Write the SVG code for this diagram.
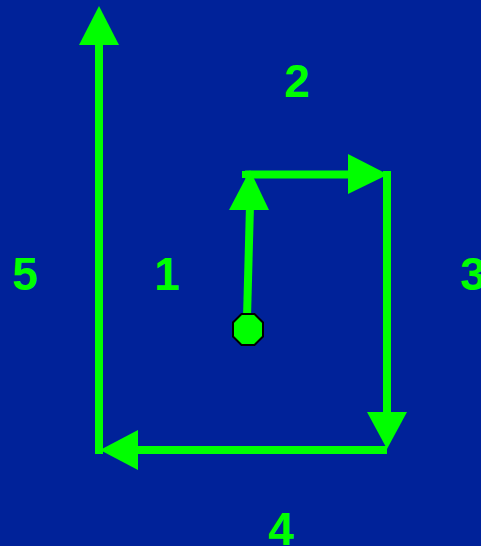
<svg xmlns="http://www.w3.org/2000/svg" width="481" height="546" viewBox="0 0 481 546">
<style>
.ln{stroke:#00ff00;stroke-width:8;fill:none}
.hd{fill:#00ff00}
.lb{font-family:"Liberation Sans",Arial,sans-serif;font-weight:bold;font-size:46px;fill:#00ff00;text-anchor:middle}
</style>
<rect width="481" height="546" fill="#002299"/>
<g id="connectors">
<line class="ln" x1="99" y1="454" x2="99" y2="40"/>
<polygon class="hd" points="99,6 119,45 79,45"/>
<line class="ln" x1="247" y1="318" x2="250" y2="205"/>
<polygon class="hd" points="250,170 269,210 229,210"/>
<line class="ln" x1="245" y1="174.5" x2="355" y2="174.5"/>
<line class="ln" x1="246" y1="171" x2="246" y2="178"/>
<polygon class="hd" points="388,174.5 348,154 348,194"/>
<line class="ln" x1="387" y1="171" x2="387" y2="415"/>
<polygon class="hd" points="387,449 367,412 407,412"/>
<line class="ln" x1="387" y1="450" x2="130" y2="450"/>
<polygon class="hd" points="100,450 138,430 138,470"/>
</g>
<g id="start">
<polygon points="241.5,314 254.5,314 263,322.5 263,336.5 254.5,345 241.5,345 233,336.5 233,322.5" fill="#00ff00" stroke="#000" stroke-width="2"/>
</g>
<g id="label1"><text class="lb" x="167" y="290">1</text></g>
<g id="label2"><text class="lb" x="297" y="97">2</text></g>
<g id="label3"><text class="lb" x="473" y="290">3</text></g>
<g id="label4"><text class="lb" x="281" y="545">4</text></g>
<g id="label5"><text class="lb" x="25" y="290">5</text></g>
</svg>
